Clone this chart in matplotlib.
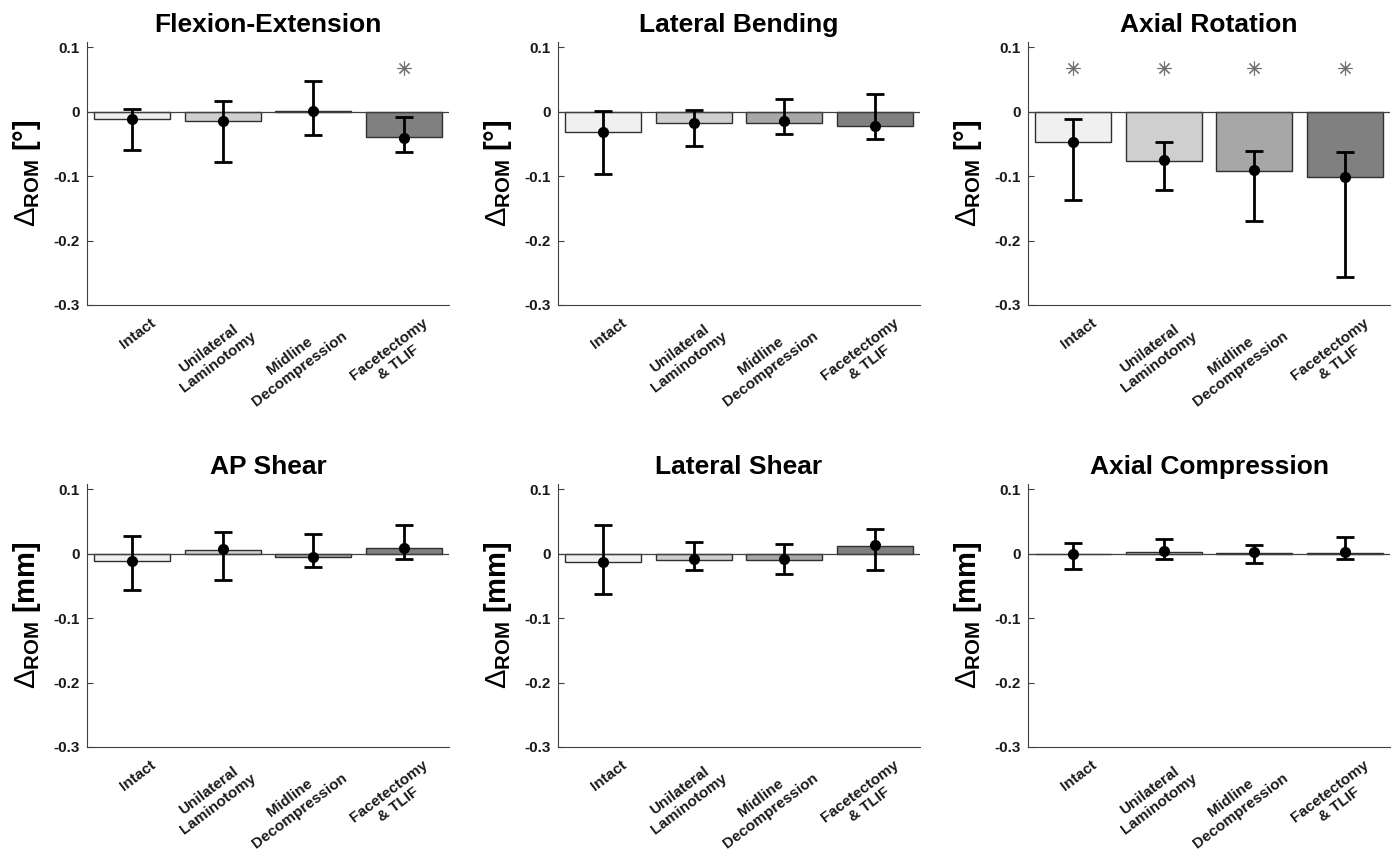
import numpy as np
import matplotlib
matplotlib.use("Agg")
import matplotlib.pyplot as plt
from matplotlib.transforms import ScaledTranslation

plt.rcParams['font.family'] = ['Liberation Sans', 'DejaVu Sans']
plt.rcParams['mathtext.fontset'] = 'custom'
plt.rcParams['mathtext.rm'] = 'Liberation Sans'
plt.rcParams['mathtext.bf'] = 'Liberation Sans:bold'

# conditions on the x axis
conditions = ["Intact", "Unilateral\nLaminotomy", "Midline\nDecompression", "Facetectomy\n& TLIF"]
bar_colors = ["#f0f0f0", "#cfcfcf", "#a7a7a7", "#808080"]

titles = ["Flexion-Extension", "Lateral Bending", "Axial Rotation",
          "AP Shear", "Lateral Shear", "Axial Compression"]
units = ["[°]", "[°]", "[°]", "[mm]", "[mm]", "[mm]"]

# bar heights (mean change of ROM)
flex_bar = [-0.012, -0.015, 0.001, -0.040]
latb_bar = [-0.032, -0.018, -0.017, -0.023]
axrot_bar = [-0.047, -0.076, -0.092, -0.101]
apsh_bar = [-0.012, 0.006, -0.005, 0.009]
latsh_bar = [-0.013, -0.010, -0.010, 0.012]
axcomp_bar = [-0.001, 0.002, 0.001, 0.001]

# dot values (point estimate)
flex_dot = [-0.012, -0.015, 0.001, -0.041]
latb_dot = [-0.032, -0.018, -0.015, -0.022]
axrot_dot = [-0.047, -0.075, -0.091, -0.101]
apsh_dot = [-0.012, 0.007, -0.005, 0.009]
latsh_dot = [-0.013, -0.009, -0.009, 0.013]
axcomp_dot = [-0.001, 0.004, 0.002, 0.002]

# error bar ends (lower, upper)
flex_lo = [-0.060, -0.078, -0.036, -0.062]
flex_hi = [0.004, 0.016, 0.047, -0.009]
latb_lo = [-0.097, -0.053, -0.034, -0.042]
latb_hi = [0.001, 0.002, 0.020, 0.027]
axrot_lo = [-0.137, -0.121, -0.169, -0.256]
axrot_hi = [-0.012, -0.047, -0.061, -0.063]
apsh_lo = [-0.057, -0.041, -0.020, -0.008]
apsh_hi = [0.027, 0.034, 0.031, 0.044]
latsh_lo = [-0.062, -0.025, -0.031, -0.026]
latsh_hi = [0.045, 0.018, 0.015, 0.038]
axcomp_lo = [-0.024, -0.009, -0.014, -0.009]
axcomp_hi = [0.017, 0.022, 0.014, 0.026]

# significance markers
flex_sig = [False, False, False, True]
latb_sig = [False, False, False, False]
axrot_sig = [True, True, True, True]
apsh_sig = [False, False, False, False]
latsh_sig = [False, False, False, False]
axcomp_sig = [False, False, False, False]
sig_y = 0.068

bars = [flex_bar, latb_bar, axrot_bar, apsh_bar, latsh_bar, axcomp_bar]
dots = [flex_dot, latb_dot, axrot_dot, apsh_dot, latsh_dot, axcomp_dot]
los = [flex_lo, latb_lo, axrot_lo, apsh_lo, latsh_lo, axcomp_lo]
his = [flex_hi, latb_hi, axrot_hi, apsh_hi, latsh_hi, axcomp_hi]
sigs = [flex_sig, latb_sig, axrot_sig, apsh_sig, latsh_sig, axcomp_sig]

fig = plt.figure(figsize=(13.96, 8.52), dpi=100)

W, H = 1396.0, 852.0
lefts = [87, 558, 1028]
bottoms = [305, 747]
ax_w, ax_h = 362, 263

x = np.arange(1, 5)
for i in range(6):
    r, c = divmod(i, 3)
    ax = fig.add_axes([lefts[c] / W, 1 - bottoms[r] / H, ax_w / W, ax_h / H])

    ax.bar(x, bars[i], width=0.84, color=bar_colors, edgecolor="#303030", linewidth=1.0, zorder=2)
    ax.axhline(0, color="#404040", lw=0.9, zorder=3)

    d = np.array(dots[i])
    yerr = [d - np.array(los[i]), np.array(his[i]) - d]
    ax.errorbar(x, d, yerr=yerr, fmt="o", color="black", ms=7, lw=2.0,
                capsize=6.5, capthick=2.0, zorder=4)

    sx = [xx for xx, s in zip(x, sigs[i]) if s]
    if sx:
        ax.plot(sx, [sig_y] * len(sx), ls="none", marker=(8, 2, 0), ms=10,
                mec="#707070", mew=0.8, zorder=4)

    ax.set_xlim(0.5, 4.5)
    ax.set_ylim(-0.3, 0.108)
    ax.set_yticks([-0.3, -0.2, -0.1, 0, 0.1])
    ax.set_yticklabels(["-0.3", "-0.2", "-0.1", "0", "0.1"])
    ax.set_xticks(x)
    ax.set_xticklabels([])

    # rotated category labels under the axis
    tr = ax.get_xaxis_transform() + ScaledTranslation(0.18, -0.11, fig.dpi_scale_trans)
    for xx, lab in zip(x, conditions):
        ax.text(xx, 0, lab, transform=tr, rotation=37, rotation_mode="anchor",
                ha="right", va="top", multialignment="center",
                fontsize=11, fontweight="bold", color="#1a1a1a")

    ax.tick_params(axis="y", direction="in", length=4, labelsize=11, pad=5, color="#404040")
    ax.tick_params(axis="x", length=0)
    for lab in ax.get_yticklabels():
        lab.set_fontweight("bold")
        lab.set_color("#1a1a1a")

    ax.spines["top"].set_visible(False)
    ax.spines["right"].set_visible(False)
    ax.spines["left"].set_color("#404040")
    ax.spines["bottom"].set_color("#404040")

    ax.set_title(titles[i], fontsize=19, fontweight="bold", pad=7)
    ax.set_ylabel(r"$\Delta_{\mathbf{ROM}}$ " + units[i], fontsize=21, fontweight="bold", labelpad=8)

fig.savefig("out.png", dpi=100)
